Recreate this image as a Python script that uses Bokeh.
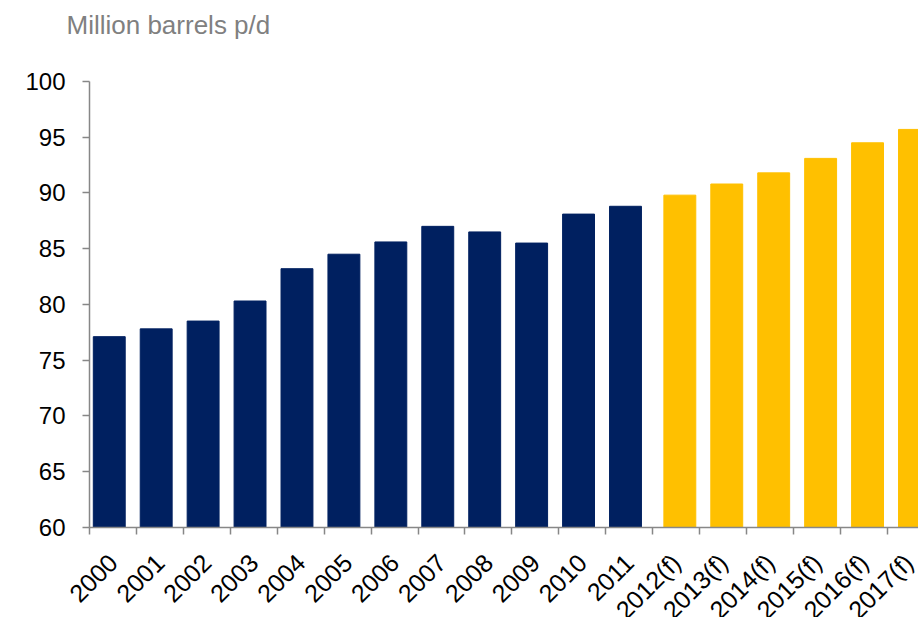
import math
from bokeh.plotting import figure
from bokeh.models import (Range1d, FixedTicker, CustomJSTickFormatter, ColumnDataSource,
                          Label)
from bokeh.embed import file_html
from bokeh.resources import INLINE

# ---- data ----
actual_years = ["2000", "2001", "2002", "2003", "2004", "2005", "2006", "2007",
                "2008", "2009", "2010", "2011"]
actual_values = [77.1, 77.8, 78.5, 80.3, 83.2, 84.5, 85.6, 87.0, 86.5, 85.5, 88.1, 88.8]
forecast_years = ["2012(f)", "2013(f)", "2014(f)", "2015(f)", "2016(f)", "2017(f)"]
forecast_values = [89.8, 90.8, 91.8, 93.1, 94.5, 95.7]
y_ticks = [60, 65, 70, 75, 80, 85, 90, 95, 100]
y_min, y_max = 60, 100
unit_title = "Million barrels p/d"

categories = actual_years + forecast_years

# ---- style / layout ----
W, H = 918, 617
NAVY = "#002060"
GOLD = "#FFC000"
AXIS = "#878787"
FONT = "Liberation Sans"
BAR_W = 0.68
SHIFT = 0.079      # clustered-series overlap offset
LABEL_SHIFT = 0.0  # label anchor nudge
PX_LEFT, PX_TOP, PX_BOTTOM = 89, 81, 526.7   # plot-area edges in pixels
CAT_PX = 46.93                               # pixels per category

x_lo = -PX_LEFT / CAT_PX
x_hi = (W - PX_LEFT) / CAT_PX
ppu = (PX_BOTTOM - PX_TOP) / (y_max - y_min)
y_hi = y_max + PX_TOP / ppu
y_lo = y_min - (H - PX_BOTTOM) / ppu

n_act = len(actual_years)
act_src = ColumnDataSource(dict(
    x=[i + 0.5 - SHIFT for i in range(n_act)],
    top=actual_values, cat=actual_years))
fc_src = ColumnDataSource(dict(
    x=[n_act + i + 0.5 + SHIFT for i in range(len(forecast_years))],
    top=forecast_values, cat=forecast_years))

p = figure(width=W, height=H, output_backend="svg", toolbar_location=None,
           x_range=Range1d(x_lo, x_hi), y_range=Range1d(y_lo, y_hi),
           min_border=0)
p.outline_line_color = None
p.grid.visible = False
p.background_fill_color = "white"
p.border_fill_color = "white"

p.vbar(x="x", top="top", bottom=y_min, width=BAR_W, source=act_src,
       fill_color=NAVY, line_color=NAVY)
p.vbar(x="x", top="top", bottom=y_min, width=BAR_W, source=fc_src,
       fill_color=GOLD, line_color=GOLD)

# x axis
xa = p.xaxis[0]
xa.fixed_location = y_min
xa.bounds = (0, x_hi)
xa.ticker = FixedTicker(ticks=[i + 0.5 - LABEL_SHIFT for i in range(len(categories))],
                        minor_ticks=list(range(len(categories) + 1)))
xa.formatter = CustomJSTickFormatter(args=dict(labels=categories),
                                     code="return labels[Math.floor(tick)] || '';")
xa.major_tick_out = 0
xa.major_tick_in = 0
xa.minor_tick_out = 7
xa.minor_tick_in = 0
xa.minor_tick_line_color = AXIS
xa.minor_tick_line_width = 1.5
xa.axis_line_color = AXIS
xa.axis_line_width = 1.5
xa.major_label_orientation = math.pi / 4
xa.major_label_text_font = FONT
xa.major_label_text_font_size = "25px"
xa.major_label_text_color = "black"
xa.major_label_standoff = 24

# y axis
ya = p.yaxis[0]
ya.fixed_location = 0
ya.bounds = (y_min, y_max)
ya.ticker = FixedTicker(ticks=y_ticks, minor_ticks=[])
ya.major_tick_out = 7
ya.major_tick_in = 0
ya.major_tick_line_color = AXIS
ya.major_tick_line_width = 1.5
ya.minor_tick_line_color = None
ya.axis_line_color = AXIS
ya.axis_line_width = 1.5
ya.major_label_text_font = FONT
ya.major_label_text_font_size = "24px"
ya.major_label_text_color = "black"
ya.major_label_standoff = 17

title = Label(x=66, y=H - 24, x_units="screen", y_units="screen", text=unit_title,
              text_font=FONT, text_font_size="26px", text_color="#808080",
              text_baseline="alphabetic", text_align="left")
p.add_layout(title)

open("out.html", "w").write(file_html(p, INLINE))
